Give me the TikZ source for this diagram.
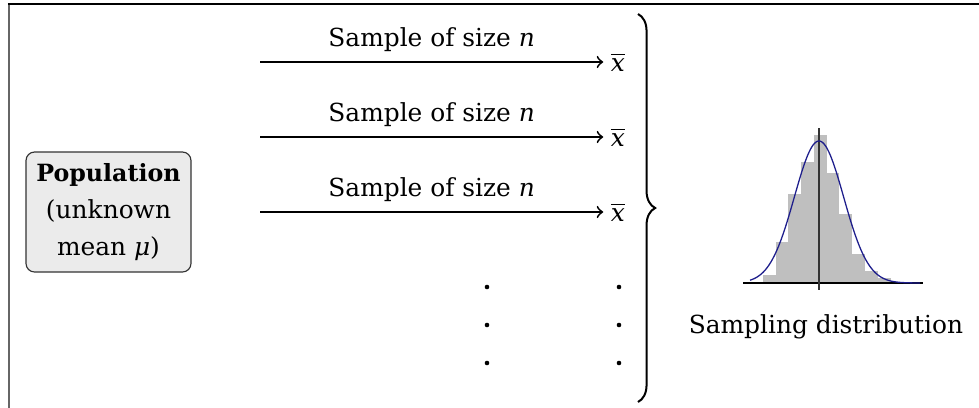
\documentclass[tikz,border=0pt]{standalone}
\usepackage{fontspec}
\setmainfont{DejaVu Serif}
\usetikzlibrary{decorations.pathreplacing}
\definecolor{boxfill}{HTML}{EBEBEB}
\definecolor{barfill}{HTML}{BFBFBF}
\definecolor{curveblue}{HTML}{1E1E8C}
\definecolor{framegray}{HTML}{666666}
\newcommand{\fs}{\fontsize{8.7}{12}\selectfont}
\newcommand{\xbarsym}{$\overline{\mbox{\itshape x}}$}
\begin{document}
\begin{tikzpicture}[x=0.35pt,y=-0.35pt,
  popbox/.style={draw=black!80, fill=boxfill, rounded corners=3pt, align=center,
    minimum width=57.75pt, minimum height=42pt, inner sep=0pt,
    font=\fontsize{8.7}{12.95}\selectfont},
  arr/.style={->, line width=0.65pt},
  lab/.style={above=0pt, font=\fs},
  xbar/.style={inner sep=2.5pt, font=\fs},
  plain/.style={font=\fs},
  dotm/.style={fill=black},
  bar/.style={fill=barfill, draw=none}]
\useasboundingbox (0,0) rectangle (979,408);
% frame
\draw[framegray, line width=0.8pt] (8.8,3.5) -- (8.8,408);
\draw[black, line width=0.6pt] (8,4) -- (979,4);
% population
\node[popbox] (pop) at (108.5,212) {\fontsize{8.3}{12.95}\selectfont\textbf{Population}\\(unknown\\mean \textit{μ})};
% sample means
\node[xbar] (xb1) at (618,62) {\xbarsym};
\node[xbar] (xb2) at (618,137) {\xbarsym};
\node[xbar] (xb3) at (618,212) {\xbarsym};
\coordinate (a1) at (260,62);
\coordinate (a2) at (260,137);
\coordinate (a3) at (260,212);
\draw[arr] (a1) -- node[lab] {Sample of size \textit{n}} (a1 -| xb1.west);
\draw[arr] (a2) -- node[lab] {Sample of size \textit{n}} (a2 -| xb2.west);
\draw[arr] (a3) -- node[lab] {Sample of size \textit{n}} (a3 -| xb3.west);
% dots
\foreach \yy in {287,325,363}{
  \fill[dotm] (487,\yy) circle (2.3);
  \fill[dotm] (619,\yy) circle (2.3);
}
% brace
\draw[line width=0.7pt, decorate, decoration={brace, amplitude=6pt}] (638,14) -- (638,402);
% histogram
\foreach \xa/\xb/\t in {763.3/776/275, 776/788.3/241.7, 788.3/801/194, 801/814/162,
  814/826.7/135, 826.7/839.3/172.7, 839.3/852/214, 852/864.7/254, 864.7/877.7/270.7,
  877.7/890.7/278, 890.7/903.3/282}{
  \fill[bar] (\xa,283) rectangle (\xb,\t);
}
\draw[black, line width=0.4pt] (743,283) -- (923,283);
\draw[black!80, line width=0.4pt] (819,128) -- (819,290);
\draw[curveblue, line width=0.45pt] plot[domain=750:920, samples=120, smooth]
  (\x, {283-142*exp(-((\x-819)^2)/1210)});
\node[plain] (sd) at (826,327) {Sampling distribution};
\end{tikzpicture}
\end{document}
